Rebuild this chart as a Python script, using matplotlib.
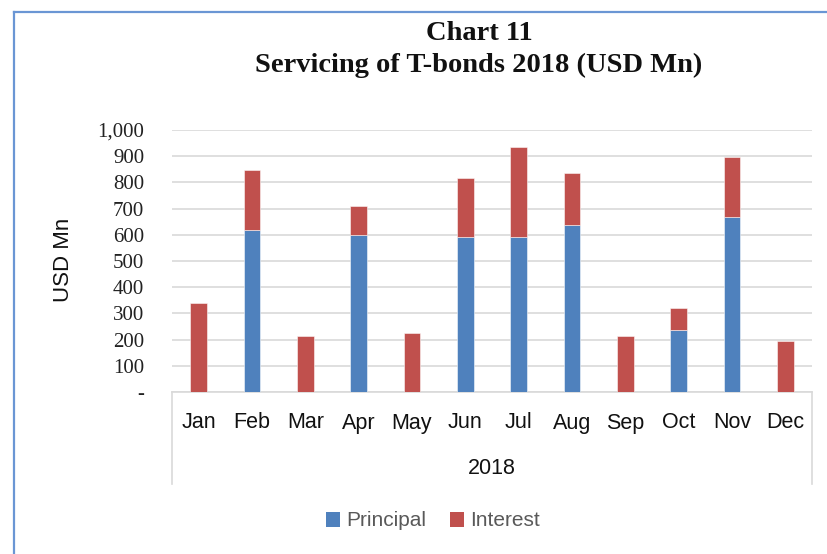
import matplotlib.pyplot as plt
import matplotlib.transforms as mtransforms
from matplotlib.lines import Line2D
from matplotlib.patches import Patch

months = ["Jan", "Feb", "Mar", "Apr", "May", "Jun",
          "Jul", "Aug", "Sep", "Oct", "Nov", "Dec"]
principal = [0, 620, 0, 600, 0, 592, 590, 637, 0, 236, 668, 0]
interest = [340, 228, 212, 110, 226, 226, 346, 200, 212, 83, 230, 196]
yticks = [0, 100, 200, 300, 400, 500, 600, 700, 800, 900, 1000]

blue = "#4F81BD"
red = "#C0504D"
sans = ["Liberation Sans", "DejaVu Sans"]
serif = ["Liberation Serif", "DejaVu Serif"]

fig = plt.figure(figsize=(8.28, 5.54), dpi=100)
W, H = 828, 554

# chart frame: only the top and left edges fall inside the canvas
frame_x, frame_y = 14 / W, 1 - 12 / H
fig.lines.append(Line2D([frame_x, 1], [frame_y, frame_y], transform=fig.transFigure,
                        color="#6A96D4", linewidth=1.6))
fig.lines.append(Line2D([frame_x, frame_x], [0, frame_y], transform=fig.transFigure,
                        color="#6A96D4", linewidth=1.6))

ax = fig.add_axes([172 / W, (H - 392) / H, 640 / W, 262 / H])
x = range(len(months))
ax.bar(x, principal, width=0.31, color=blue, edgecolor=(1, 1, 1, 0.6), linewidth=0.6, zorder=3)
ax.bar(x, interest, width=0.31, bottom=principal, color=red,
       edgecolor=(1, 1, 1, 0.6), linewidth=0.6, zorder=3)

ax.set_xlim(-0.5, len(months) - 0.5)
ax.set_ylim(0, 1000)
ax.set_yticks(yticks)
ax.set_yticklabels(["-" if v == 0 else f"{v:,}" for v in yticks],
                   family=serif, fontsize=15, color="#222222")
ax.tick_params(axis="y", length=0, pad=20)
ax.set_xticks([])
ax.yaxis.grid(True, color="#D9D9D9", linewidth=1.2, zorder=0)
for s in ax.spines.values():
    s.set_visible(False)

# two-level category axis box
depth = 92 / 262
for xa in (0, 1):
    ax.plot([xa, xa], [0, -depth], transform=ax.transAxes, color="#D9D9D9",
            linewidth=1.2, clip_on=False)
ax.plot([0, 1], [0, 0], transform=ax.transAxes, color="#D9D9D9", linewidth=1.2, clip_on=False)

trans = mtransforms.blended_transform_factory(ax.transData, ax.transAxes)
for i, m in enumerate(months):
    ax.text(i, -31 / 262, m, transform=trans, ha="center", va="center",
            family=sans, fontsize=15.5, color="#111111")
ax.text(0.5, -76 / 262, "2018", transform=ax.transAxes, ha="center", va="center",
        family=sans, fontsize=15.5, color="#111111")

fig.text(64 / W, 1 - 260 / H, "USD Mn", rotation=90, ha="center", va="center",
         family=sans, fontsize=16, color="#111111")

fig.text(479 / W, 1 - 34 / H, "Chart 11", ha="center", va="center",
         family=serif, fontweight="bold", fontsize=20.5, color="#111111")
fig.text(479 / W, 1 - 65 / H, "Servicing of T-bonds 2018 (USD Mn)", ha="center", va="center",
         family=serif, fontweight="bold", fontsize=20.5, color="#111111")

handles = [Patch(facecolor=blue), Patch(facecolor=red)]
fig.legend(handles, ["Principal", "Interest"], loc="center", bbox_to_anchor=(433 / W, 33 / H),
           ncol=2, frameon=False, prop={"family": sans, "size": 15},
           labelcolor="#595959", handlelength=0.7, handleheight=0.7,
           handletextpad=0.3, columnspacing=1.1)

fig.savefig("out.png", dpi=100)
